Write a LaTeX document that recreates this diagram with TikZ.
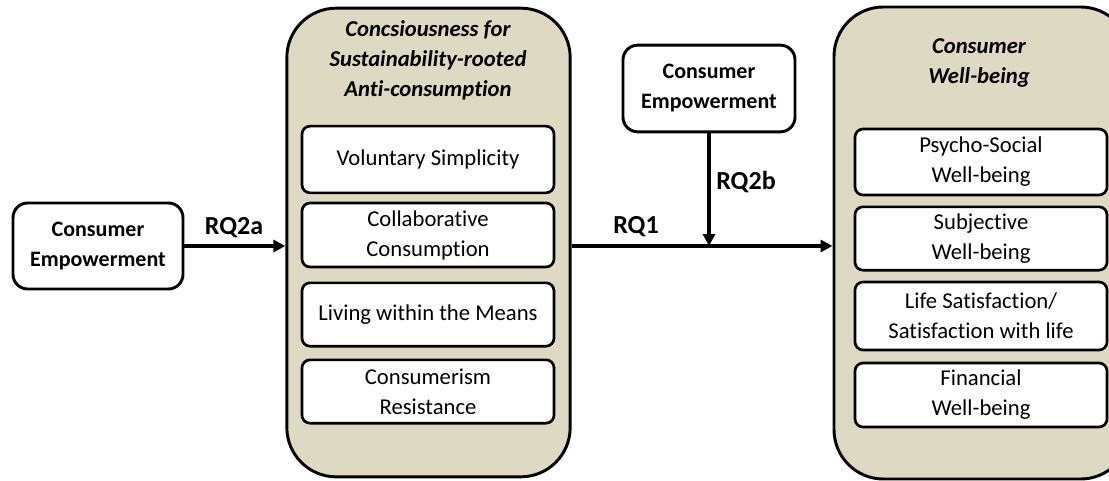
\documentclass[tikz,border=0pt]{standalone}
\usepackage{fontspec}
\setmainfont{Carlito}[Ligatures={NoCommon,NoRare,NoContextual}]
\usetikzlibrary{arrows.meta}
\definecolor{panelfill}{RGB}{221,217,195}
\tikzset{
  panel/.style={draw=black, line width=2.2pt, fill=panelfill, rounded corners=37pt, inner sep=0pt},
  itembox/.style={draw=black, line width=2pt, fill=white, rounded corners=6pt, inner sep=0pt, minimum width=189pt, align=center, font=\fontsize{17}{22.5}\selectfont},
  cebox/.style={draw=black, line width=2.2pt, fill=white, rounded corners=11pt, inner sep=0pt, align=center, font=\fontsize{16.5}{22.5}\selectfont\bfseries},
  ptitle/.style={align=center, font=\fontsize{17}{22.5}\selectfont\bfseries\itshape},
  rqlabel/.style={font=\fontsize{19.5}{22}\selectfont\bfseries},
  conn/.style={line width=2.6pt, -{Triangle[length=9pt,width=9pt]}}
}
\begin{document}
\begin{tikzpicture}[x=0.75pt,y=-0.75pt]
\useasboundingbox (0,0) rectangle (1109,481);
% panels
\node[panel, minimum width=212.5pt, minimum height=351.5pt] (lp) at (428.5,242.5) {};
\node[panel, minimum width=222pt, minimum height=354pt] (rp) at (982,243) {};
\node[ptitle] (lt) at (428,60) {Concsiousness for\\Sustainability-rooted\\Anti-consumption};
\node[ptitle] (rt) at (979,63) {Consumer\\Well-being};
% left items
\node[itembox, minimum height=50pt] (l1) at (428,159.5) {Voluntary Simplicity};
\node[itembox, minimum height=48pt] (l2) at (428,235) {Collaborative\\Consumption};
\node[itembox, minimum height=47.5pt] (l3) at (428,314.5) {Living within the Means};
\node[itembox, minimum height=47.5pt] (l4) at (428,391.5) {Consumerism\\Resistance};
% right items
\node[itembox, minimum height=49.5pt] (r1) at (981,162) {Psycho-Social\\Well-being};
\node[itembox, minimum height=47.5pt] (r2) at (981,238.5) {Subjective\\Well-being};
\node[itembox, minimum height=51pt] (r3) at (981,316) {Life Satisfaction/\\Satisfaction with life};
\node[itembox, minimum height=48pt] (r4) at (981,395) {Financial\\Well-being};
% empowerment boxes
\node[cebox, minimum width=127.5pt, minimum height=64.5pt] (ce1) at (98,246) {Consumer\\Empowerment};
\node[cebox, minimum width=129pt, minimum height=65pt] (ce2) at (709,88.5) {Consumer\\Empowerment};
% connectors
\coordinate (lpout) at (lp.east |- ce1.east);
\coordinate (mid) at (ce2.south |- ce1.east);
\draw[conn] (ce1.east) -- (ce1.east -| lp.west);
\draw[conn] (lpout) -- (lpout -| rp.west);
\draw[conn] (ce2.south) -- (mid);
% labels
\node[rqlabel] (q2a) at (234,228) {RQ2a};
\node[rqlabel] (q1) at (636,227) {RQ1};
\node[rqlabel] (q2b) at (746,182) {RQ2b};
\end{tikzpicture}
\end{document}
